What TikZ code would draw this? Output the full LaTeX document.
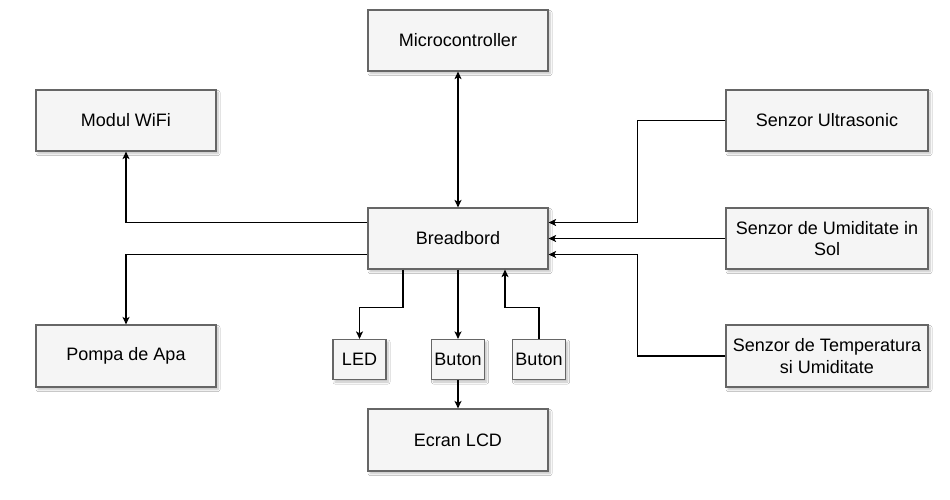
\documentclass[tikz,border=0pt]{standalone}
\usepackage{fontspec}
\setmainfont{Liberation Sans}
\usetikzlibrary{arrows.meta,shadows.blur}
\definecolor{boxfill}{HTML}{F5F5F5}
\definecolor{boxline}{HTML}{666666}
\tikzset{
  blk/.style={draw=boxline, fill=boxfill, line width=1.2pt, rectangle, inner sep=2pt,
    align=center, font=\fontsize{18}{21.5}\selectfont,
    blur shadow={shadow xshift=2pt, shadow yshift=-2.5pt, shadow blur steps=6, shadow blur radius=2pt, shadow opacity=25}},
  big/.style={blk, minimum width=180pt, minimum height=61pt},
  wide/.style={blk, minimum width=202pt, minimum height=61pt},
  small/.style={blk, minimum width=53pt, minimum height=40pt},
  conn/.style={line width=1.1pt, -{Stealth[length=7.5pt,width=7pt,inset=1.8pt]}},
}
\begin{document}
\begin{tikzpicture}[x=1pt,y=-1pt]
\path[use as bounding box, fill=white] (0,0) rectangle (950,499);
\node[big] (micro) at (458,40.5) {Microcontroller};
\node[big] (wifi) at (126,120.5) {Modul WiFi};
\node[wide] (ultra) at (827,120.5) {Senzor Ultrasonic};
\node[big] (bread) at (458,238.5) {Breadbord};
\node[wide] (umid) at (827,238.5) {Senzor de Umiditate in\\Sol};
\node[big, minimum height=62pt] (pompa) at (126,356) {Pompa de Apa};
\node[wide, minimum height=62pt] (temp) at (827,356) {Senzor de Temperatura\\si Umiditate};
\node[small] (led) at (359.5,359.5) {LED};
\node[small] (but1) at (458,359.5) {Buton};
\node[small] (but2) at (539,359.5) {Buton};
\node[big, minimum height=62pt] (lcd) at (458,440) {Ecran LCD};

\draw[conn, {Stealth[length=7.5pt,width=7pt,inset=1.8pt]}-{Stealth[length=7.5pt,width=7pt,inset=1.8pt]}] (micro.south) -- (bread.north);
\draw[conn] ([yshift=16pt]bread.west) -| (wifi.south);
\draw[conn] ([yshift=-16pt]bread.west) -| (pompa.north);
\draw[conn] ([xshift=-55pt]bread.south) |- ([yshift=31.5pt]led.north) -- (led.north);
\draw[conn] (bread.south) -- (but1.north);
\draw[conn] (but1.south) -- (lcd.north);
\draw[conn] (but2.north) -- ([yshift=31.5pt]but2.north) -| ([xshift=47pt]bread.south);
\draw[conn] (ultra.west) -| ([xshift=89pt,yshift=16pt]bread.east) -- ([yshift=16pt]bread.east);
\draw[conn] (umid.west) -- (bread.east);
\draw[conn] (temp.west) -| ([xshift=89pt,yshift=-16pt]bread.east) -- ([yshift=-16pt]bread.east);
\end{tikzpicture}
\end{document}
